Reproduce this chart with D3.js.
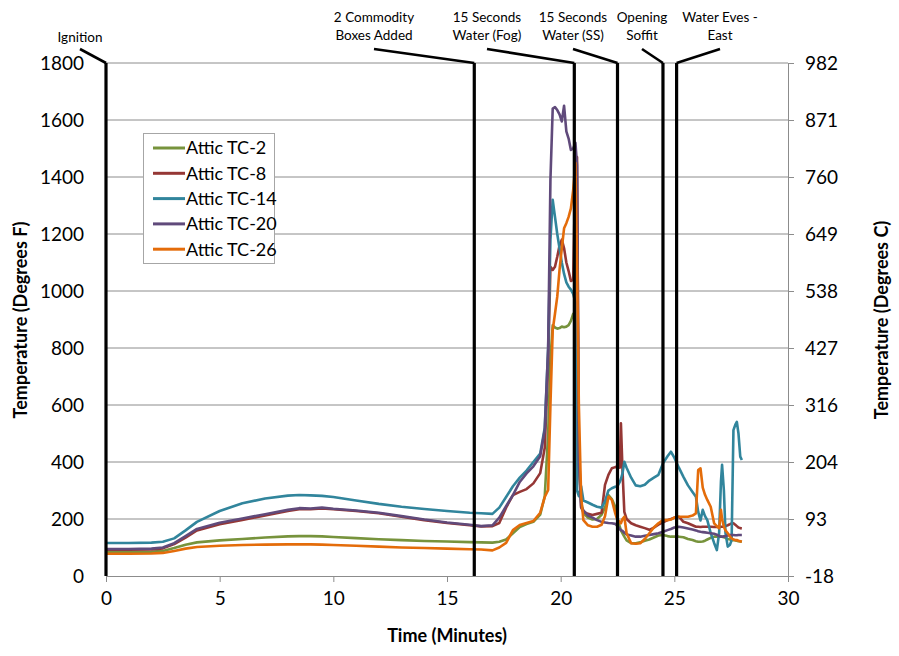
<!DOCTYPE html>
<html><head><meta charset="utf-8">
<script src="https://cdn.jsdelivr.net/npm/d3@7"></script>
<style>
body{margin:0;background:#fff;}
svg{display:block;font-family:Lato,"Open Sans",sans-serif;}
</style></head>
<body><svg id="c" width="899" height="656"></svg>
<script>
const time = [0,1,2,2.5,3,3.5,4,5,6,7,
8,8.5,9,9.5,10,11,12,13,14,15,
16,16.5,17,17.3,17.6,17.9,18.2,18.5,18.8,19.1,
19.3,19.45,19.55,19.65,19.75,19.85,19.95,20.05,20.15,20.25,
20.35,20.45,20.55,20.65,20.72,20.8,20.9,21.0,21.2,21.4,
21.6,21.8,21.95,22.1,22.25,22.4,22.5,22.6,22.65,22.72,
22.8,22.9,23.1,23.3,23.5,23.7,23.9,24.1,24.3,24.5,
24.7,24.85,25.0,25.2,25.4,25.6,25.8,25.95,26.05,26.15,
26.25,26.35,26.45,26.6,26.75,26.87,26.97,27.05,27.1,27.18,
27.25,27.35,27.45,27.52,27.6,27.68,27.75,27.82,27.9,27.97];

const tc2 = [84,84,85,88,98,110,118,125,130,135,
139,140,140,139,137,133,129,126,123,121,
119,118,117,120,128,150,172,182,190,215,
280,500,760,880,872,868,870,875,873,875,
880,895,920,900,700,400,260,220,205,198,
200,215,240,284,270,243,200,173,160,150,
138,125,115,115,118,124,128,135,142,144,
140,138,138,138,136,130,126,122,120,120,
121,124,128,134,138,138,138,138,138,136,
134,130,128,126,126,125,124,122,121,120];

const tc8 = [92,92,93,97,112,135,160,182,197,212,
228,234,234,237,234,228,220,208,196,186,
178,174,175,186,240,284,295,305,325,361,
450,750,1085,1074,1085,1120,1160,1180,1150,1100,
1070,1035,1040,1440,1470,450,240,226,218,214,
218,222,320,355,378,382,384,380,536,372,
225,200,185,178,173,168,162,170,180,188,
196,200,205,208,190,185,178,173,173,172,
173,173,173,173,172,172,172,173,173,173,
175,178,182,185,185,180,175,170,168,167];

const tc14 = [116,116,117,120,132,160,190,228,255,272,
282,284,283,281,277,265,253,243,235,228,
222,220,218,240,277,315,345,370,400,430,
520,800,1180,1320,1260,1200,1150,1100,1060,1030,
1015,1005,990,960,300,280,315,265,258,250,
243,240,262,300,308,313,315,330,340,360,
401,380,345,318,315,320,335,345,355,395,
420,436,415,380,348,318,295,278,225,195,
232,210,196,151,116,91,150,330,390,300,
151,103,110,126,512,530,541,501,419,407];

const tc20 = [95,95,96,100,115,140,165,187,202,217,
232,238,237,240,236,230,222,210,198,188,
180,175,178,205,245,284,330,360,385,420,
512,800,1390,1640,1645,1635,1620,1595,1650,1560,
1535,1495,1500,1520,1440,400,245,230,212,205,
196,190,188,186,185,183,175,165,161,158,
152,146,142,138,138,141,144,147,150,155,
161,165,170,173,170,167,163,160,157,155,
154,153,152,150,148,145,140,138,138,139,
140,142,144,144,144,143,143,144,144,144];

const tc26 = [78,78,79,81,88,96,102,106,109,110,
111,111,111,110,109,106,103,100,98,96,
94,93,90,100,116,161,179,186,193,222,
277,302,600,863,920,980,1074,1150,1220,1238,
1260,1290,1354,1449,1100,600,280,196,178,173,
173,180,210,278,267,220,196,190,185,200,
208,150,115,113,115,130,150,170,185,196,
196,198,205,208,208,208,212,220,372,378,
310,285,267,243,185,175,167,232,200,173,
160,150,138,132,128,126,126,124,122,120];

const seriesNames = ["Attic TC-2","Attic TC-8","Attic TC-14","Attic TC-20","Attic TC-26"];
const seriesColors = ["#77933C","#953735","#31859C","#604A7B","#E46C0A"];
const seriesValues = [tc2, tc8, tc14, tc20, tc26];

const xTicks = [0,5,10,15,20,25,30];
const yTicks = [0,200,400,600,800,1000,1200,1400,1600,1800];
const yRightLabels = ["-18","93","204","316","427","538","649","760","871","982"];

const eventTimes = [0,16.2,20.6,22.5,24.5,25.1];
const eventLabels = [["Ignition"],["2 Commodity","Boxes Added"],["15 Seconds","Water (Fog)"],["15 Seconds","Water (SS)"],["Opening","Soffit"],["Water Eves -","East"]];

const svg = d3.select("#c");
const L=106,R=788,T=63,B=576;
const x = d3.scaleLinear().domain([0,30]).range([L,R]);
const y = d3.scaleLinear().domain([0,1800]).range([B,T]);

// gridlines
svg.append("g").selectAll("line").data(yTicks.slice(1)).join("line")
  .attr("x1",L).attr("x2",R).attr("y1",d=>y(d)).attr("y2",d=>y(d))
  .attr("stroke","#8c8c8c").attr("stroke-width",1);

// bottom axis
const gx = svg.append("g").attr("transform",`translate(0,${B})`)
  .call(d3.axisBottom(x).tickValues(xTicks).tickSize(6).tickSizeOuter(0).tickFormat(d3.format("d")));
gx.select(".domain").attr("stroke","#8c8c8c");
gx.selectAll(".tick line").attr("stroke","#8c8c8c");
gx.selectAll("text").attr("font-size",19).attr("fill","#000").attr("dy","1.05em").attr("font-family","Lato");

// left axis
const gy = svg.append("g").attr("transform",`translate(${L},0)`)
  .call(d3.axisLeft(y).tickValues(yTicks).tickSize(0).tickPadding(22).tickFormat(d3.format("d")));
gy.select(".domain").remove();
gy.selectAll("text").attr("font-size",19).attr("fill","#000").attr("font-family","Lato");

// right axis
const gr = svg.append("g").attr("transform",`translate(${R},0)`)
  .call(d3.axisRight(y).tickValues(yTicks).tickSize(6).tickSizeOuter(0).tickPadding(11)
    .tickFormat((d,i)=>yRightLabels[i]));
gr.select(".domain").attr("stroke","#8c8c8c");
gr.selectAll(".tick line").attr("stroke","#8c8c8c");
gr.selectAll("text").attr("font-size",19).attr("fill","#000").attr("font-family","Lato");

// titles
svg.append("text").attr("x",447).attr("y",642).attr("text-anchor","middle")
  .attr("font-size",18).attr("font-weight","bold").text("Time (Minutes)");
svg.append("text").attr("transform","translate(27,320) rotate(-90)").attr("text-anchor","middle")
  .attr("font-size",18).attr("font-weight","bold").text("Temperature (Degrees F)");
svg.append("text").attr("transform","translate(888,320) rotate(-90)").attr("text-anchor","middle")
  .attr("font-size",18).attr("font-weight","bold").text("Temperature (Degrees C)");

// series
const line = d3.line().x((d,i)=>x(time[i])).y(d=>y(d));
svg.append("g").selectAll("path").data(seriesValues).join("path")
  .attr("d",line).attr("fill","none")
  .attr("stroke",(d,i)=>seriesColors[i]).attr("stroke-width",2.6)
  .attr("stroke-linejoin","round");

// event lines
svg.append("g").selectAll("line").data(eventTimes).join("line")
  .attr("x1",d=>x(d)).attr("x2",d=>x(d)).attr("y1",T).attr("y2",B)
  .attr("stroke","#000").attr("stroke-width",3.2);

// leader lines and labels
const labelX = [80,374,487,573,642,720];
const lg = svg.append("g");
eventTimes.forEach((t,i)=>{
  const lx = labelX[i];
  const ly = 49;
  lg.append("line").attr("x1",lx).attr("y1",ly).attr("x2",x(t)).attr("y2",T)
    .attr("stroke","#000").attr("stroke-width",2.6);
  const lines = eventLabels[i];
  lines.forEach((s,j)=>{
    const baseY = lines.length===1 ? 42 : 22 + j*18;
    lg.append("text").attr("x",lx).attr("y",baseY).attr("text-anchor","middle")
      .attr("font-size",13.5).attr("fill","#000").text(s);
  });
});

// legend
const leg = svg.append("g");
leg.append("rect").attr("x",143.5).attr("y",133.5).attr("width",131).attr("height",130)
  .attr("fill","#fff").attr("stroke","#a6a6a6").attr("stroke-width",1);
seriesNames.forEach((n,i)=>{
  const cy = 148 + i*25.3;
  leg.append("line").attr("x1",153).attr("x2",185).attr("y1",cy).attr("y2",cy)
    .attr("stroke",seriesColors[i]).attr("stroke-width",3);
  leg.append("text").attr("x",186).attr("y",cy).attr("dy","0.35em")
    .attr("font-size",18).attr("fill","#000").text(n);
});
</script></body></html>
